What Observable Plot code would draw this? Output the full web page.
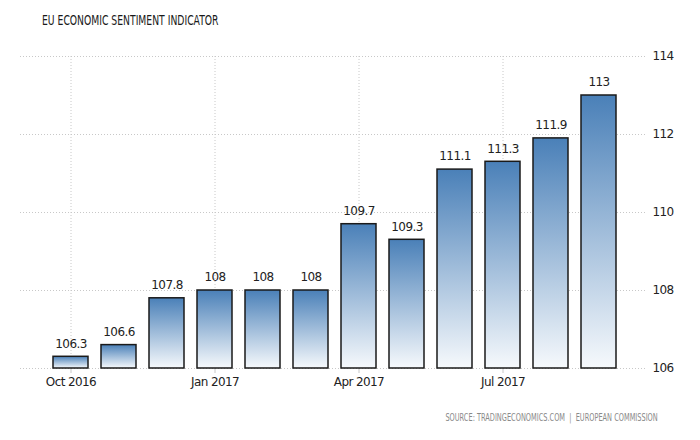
<!DOCTYPE html>
<html>
<head>
<meta charset="utf-8">
<script src="https://cdn.jsdelivr.net/npm/d3@7"></script>
<script src="https://cdn.jsdelivr.net/npm/@observablehq/plot@0.6"></script>
<style>
  html, body { margin: 0; padding: 0; background: #fff; }
  #wrap { width: 700px; height: 440px; position: relative; overflow: hidden; font-family: "DejaVu Sans", sans-serif; }
  #title { height: 40px; box-sizing: border-box; padding: 12px 0 0 42px; font-size: 14px; color: #1a1a1a; }
  #title span { display: inline-block; transform: scaleX(0.66); transform-origin: left center; white-space: nowrap; }
  #caption { text-align: right; padding-right: 42px; margin-top: 12px; font-size: 10px; color: #8a8a8a; }
  #caption span { display: inline-block; transform: scaleX(0.66); transform-origin: right center; white-space: nowrap; }
  svg { display: block; }
</style>
</head>
<body>
<div id="wrap">
  <div id="title"><span>EU ECONOMIC SENTIMENT INDICATOR</span></div>
  <div id="chart"></div>
  <div id="caption"><span>SOURCE: TRADINGECONOMICS.COM &nbsp;|&nbsp; EUROPEAN COMMISSION</span></div>
</div>
<script>
const months = ["Oct 2016","Nov 2016","Dec 2016","Jan 2017","Feb 2017","Mar 2017","Apr 2017","May 2017","Jun 2017","Jul 2017","Aug 2017","Sep 2017"];
const values = [106.3, 106.6, 107.8, 108, 108, 108, 109.7, 109.3, 111.1, 111.3, 111.9, 113];
const xTicks = ["Oct 2016","Jan 2017","Apr 2017","Jul 2017"];
const yTicks = [106, 108, 110, 112, 114];
const yDomain = [106, 114];

const data = months.map((m, i) => ({month: m, value: values[i]}));
const fontFam = "'DejaVu Sans', sans-serif";

const chart = Plot.plot({
  width: 700,
  height: 360,
  marginTop: 16,
  marginBottom: 32,
  marginLeft: 20,
  marginRight: 55,
  insetLeft: 28,
  insetRight: 23,
  style: {fontFamily: fontFam, fontSize: "12px", color: "#222", background: "#fff"},
  x: {domain: months, paddingInner: 0.265, paddingOuter: 0, label: null},
  y: {domain: yDomain, label: null},
  marks: [
    () => {
      const svg = d3.create("svg:defs");
      const g = svg.append("linearGradient").attr("id", "barGrad").attr("x1", 0).attr("y1", 0).attr("x2", 0).attr("y2", 1);
      g.append("stop").attr("offset", "0%").attr("stop-color", "#4a80b8");
      g.append("stop").attr("offset", "100%").attr("stop-color", "#f6f9fc");
      return svg.node();
    },
    Plot.gridY(yTicks, {stroke: "#c8c8c8", strokeOpacity: 1, strokeDasharray: "1,2"}),
    Plot.gridX(xTicks, {stroke: "#c8c8c8", strokeOpacity: 1, strokeDasharray: "1,2"}),
    Plot.axisX(xTicks, {tickSize: 5, stroke: "#c8c8c8", tickPadding: 4, fontSize: 12, fill: "#222", label: null}),
    Plot.axisY(yTicks, {anchor: "right", tickSize: 0, tickPadding: 7, fontSize: 12, fill: "#222", label: null}),
    Plot.barY(data, {x: "month", y1: yDomain[0], y2: "value", fill: "url(#barGrad)", stroke: "#1a1a1a", strokeWidth: 1.5}),
    Plot.text(data, {x: "month", y: "value", text: d => String(d.value), dy: -13, fontSize: 12, fill: "#222"})
  ]
});
d3.select(chart).selectAll("text").style("letter-spacing", "-0.6px");
document.getElementById("chart").appendChild(chart);
</script>
</body>
</html>
